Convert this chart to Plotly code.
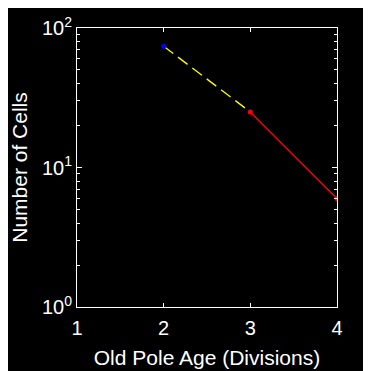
import plotly.graph_objects as go

# Data
age_dashed = [2, 3]
cells_dashed = [74, 25]
age_blue = [2]
cells_blue = [74]
age_red = [3, 4]
cells_red = [25, 6]

x_ticks = [1, 2, 3, 4]
y_ticks = [1, 10, 100]
y_ticktext = ["10<sup>0</sup>", "10<sup>1</sup>", "10<sup>2</sup>"]
y_minor = [m * 10 ** k for k in range(2) for m in range(2, 10)]

font = "Liberation Sans, Arial, Helvetica, sans-serif"

fig = go.Figure()
fig.add_trace(go.Scatter(x=age_dashed, y=cells_dashed, mode="lines",
                         line=dict(color="#ffff00", width=1.3, dash="12px,6px"),
                         showlegend=False))
fig.add_trace(go.Scatter(x=age_red, y=cells_red, mode="lines+markers",
                         line=dict(color="#ff0000", width=1.3),
                         marker=dict(color="#ff0000", size=5),
                         showlegend=False))
fig.add_trace(go.Scatter(x=age_blue, y=cells_blue, mode="markers",
                         marker=dict(color="#0000ff", size=5),
                         showlegend=False))

fig.update_layout(
    width=363, height=363,
    paper_bgcolor="black", plot_bgcolor="black",
    margin=dict(l=69, r=34, t=20, b=64, autoexpand=False),
    font=dict(family=font, color="white", size=20),
    xaxis=dict(range=[1, 4], tickvals=x_ticks, ticks="inside", ticklen=4,
               tickcolor="white", showline=True, linecolor="white", linewidth=1,
               mirror="ticks", showgrid=False, zeroline=False,
               tickfont=dict(size=20), ticklabelstandoff=3,
               title=dict(text="Old Pole Age (Divisions)", font=dict(size=21), standoff=12)),
    yaxis=dict(type="log", range=[0, 2], tickvals=y_ticks, ticktext=y_ticktext,
               ticks="inside", ticklen=5, tickcolor="white", showline=True,
               linecolor="white", linewidth=1, mirror="ticks", showgrid=False,
               zeroline=False, tickfont=dict(size=20),
               minor=dict(tickvals=y_minor, ticks="inside", ticklen=3, tickcolor="white",
                          showgrid=False),
               title=dict(text="Number of Cells", font=dict(size=21), standoff=12)),
)

fig.write_html("out.html")
